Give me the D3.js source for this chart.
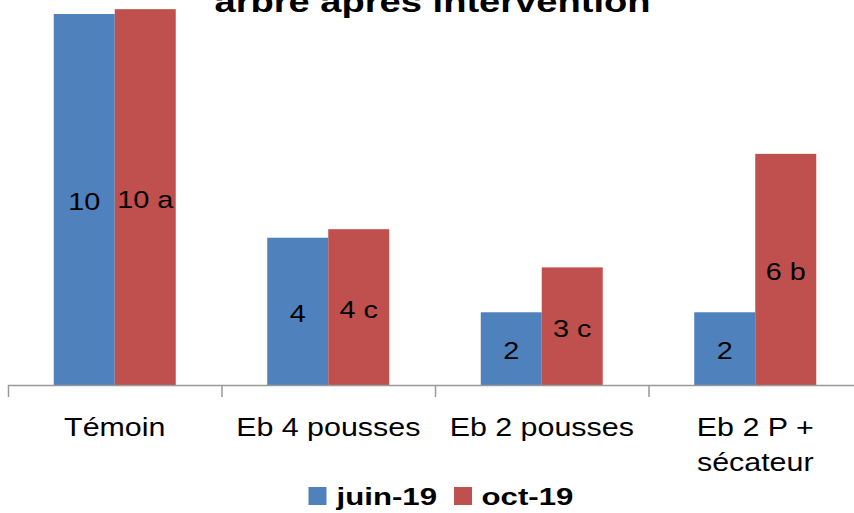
<!DOCTYPE html>
<html>
<head>
<meta charset="utf-8">
<script src="https://cdn.jsdelivr.net/npm/d3@7"></script>
<style>
  html, body { margin: 0; padding: 0; background: #fff; }
  svg { display: block; font-family: "Liberation Sans", Arial, sans-serif; }
</style>
</head>
<body>
<svg id="chart" width="854" height="513"></svg>
<script>
const title = "arbre après intervention";
const categories = ["Témoin", "Eb 4 pousses", "Eb 2 pousses", "Eb 2 P +\nsécateur"];
const series = ["juin-19", "oct-19"];
const juinValues = [10, 3.97, 1.96, 1.96];
const octValues = [10.13, 4.2, 3.17, 6.23];
const juinLabels = ["10", "4", "2", "2"];
const octLabels = ["10 a", "4 c", "3 c", "6 b"];

const colors = { "juin-19": "#4F81BD", "oct-19": "#C0504D" };

const svg = d3.select("#chart");

const baseY = 385;
const x0 = d3.scaleBand().domain(categories).range([8, 862]).padding(0);
const x1 = d3.scaleBand().domain(series).range([0, x0.bandwidth()]).paddingInner(0).paddingOuter(0.75);
const y = d3.scaleLinear().domain([0, 10]).range([baseY, 14]);

const data = categories.map((c, i) => ({
  cat: c,
  vals: [
    { s: "juin-19", v: juinValues[i], label: juinLabels[i] },
    { s: "oct-19", v: octValues[i], label: octLabels[i] }
  ]
}));

// Title (cut at top)
svg.append("text")
  .attr("transform", "translate(432.5,12) scale(1.27,1)")
  .attr("text-anchor", "middle")
  .attr("font-size", 30)
  .attr("font-weight", "bold")
  .attr("fill", "#000")
  .text(title);

// Bars
const groups = svg.append("g").selectAll("g")
  .data(data).join("g")
  .attr("transform", d => `translate(${x0(d.cat)},0)`);

groups.selectAll("rect")
  .data(d => d.vals).join("rect")
  .attr("x", d => x1(d.s))
  .attr("width", x1.bandwidth())
  .attr("y", d => y(d.v))
  .attr("height", d => baseY - y(d.v))
  .attr("fill", d => colors[d.s]);

// Value labels centered in bars
groups.selectAll("text.val")
  .data(d => d.vals).join("text")
  .attr("class", "val")
  .attr("transform", d => `translate(${x1(d.s) + x1.bandwidth() / 2},${(y(d.v) + baseY) / 2 + 10.5}) scale(1.2,1)`)
  .attr("text-anchor", "middle")
  .attr("font-size", 24)
  .attr("fill", "#000")
  .text(d => d.label);

// X axis
const axis = d3.axisBottom(x0).tickSize(0).tickFormat("");
const axG = svg.append("g").attr("transform", `translate(0,${baseY + 0.5})`).call(axis);
axG.select(".domain").attr("stroke", "#999").attr("stroke-width", 1.5).attr("d", "M8,0H862");
// category boundary ticks
const boundaries = categories.map(c => x0(c));
svg.append("g").selectAll("line")
  .data(boundaries).join("line")
  .attr("x1", d => d + 0.5).attr("x2", d => d + 0.5)
  .attr("y1", baseY).attr("y2", baseY + 12)
  .attr("stroke", "#999").attr("stroke-width", 1.5);

// Category labels
const catG = svg.append("g").selectAll("text")
  .data(categories).join("text")
  .attr("text-anchor", "middle")
  .attr("font-size", 26)
  .attr("fill", "#000")
  .attr("transform", d => `translate(${x0(d) + x0.bandwidth() / 2},436) scale(1.17,1)`);
catG.each(function(d) {
  const lines = d.split("\n");
  d3.select(this).selectAll("tspan").data(lines).join("tspan")
    .attr("x", 0)
    .attr("dy", (l, i) => i === 0 ? 0 : 35)
    .text(l => l);
});

// Legend
const legendItems = [
  { s: "juin-19", sx: 308.5, tx: 336.5 },
  { s: "oct-19", sx: 454, tx: 481.5 }
];
const lg = svg.append("g");
lg.selectAll("rect").data(legendItems).join("rect")
  .attr("x", d => d.sx).attr("y", 487)
  .attr("width", 18).attr("height", 18)
  .attr("fill", d => colors[d.s]);
lg.selectAll("text").data(legendItems).join("text")
  .attr("transform", d => `translate(${d.tx},505) scale(1.3,1)`)
  .attr("font-size", 24)
  .attr("font-weight", "bold")
  .attr("fill", "#000")
  .text(d => d.s);
</script>
</body>
</html>
